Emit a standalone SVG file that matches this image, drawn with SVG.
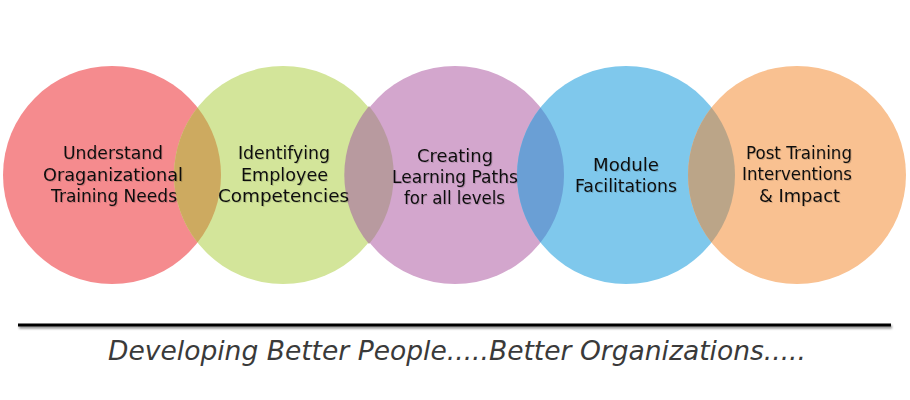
<svg xmlns="http://www.w3.org/2000/svg" width="910" height="400" viewBox="0 0 910 400">
<defs>
<filter id="ts" x="-10%" y="-30%" width="120%" height="160%">
<feDropShadow dx="1" dy="1" stdDeviation="0.4" flood-color="#000" flood-opacity="0.15"/>
</filter>
<filter id="ls" filterUnits="userSpaceOnUse" x="0" y="315" width="910" height="25">
<feDropShadow dx="1" dy="2" stdDeviation="1" flood-color="#000" flood-opacity="0.45"/>
</filter>
</defs>
<style>
.lbl{font-family:"DejaVu Sans","Liberation Sans",sans-serif;font-size:17px;fill:#111;text-anchor:middle;filter:url(#ts)}
.tag{font-family:"DejaVu Sans","Liberation Sans",sans-serif;font-size:27px;font-style:italic;fill:#3a3a3a}
</style>
<rect width="910" height="400" fill="#fff"/>
<g id="circle1"><circle cx="112" cy="175" r="109" fill="#F58B8E"/></g>
<g id="circle2"><circle cx="283" cy="175" r="109" fill="#D3E59A"/></g>
<g id="circle3"><circle cx="455" cy="175" r="109" fill="#D3A6CD"/></g>
<g id="circle4"><circle cx="626" cy="175" r="109" fill="#7FC8EC"/></g>
<g id="circle5"><circle cx="797" cy="175" r="109" fill="#F9C191"/></g>
<g id="overlaps">
<path d="M197.5 107.4 A109 109 0 0 1 197.5 242.6 A109 109 0 0 1 197.5 107.4Z" fill="#CDAA60"/>
<path d="M369 105.9 A109 109 0 0 1 369 244.1 A109 109 0 0 1 369 105.9Z" fill="#B89A9F"/>
<path d="M540.5 107.4 A109 109 0 0 1 540.5 242.6 A109 109 0 0 1 540.5 107.4Z" fill="#6A9FD5"/>
<path d="M711.5 107.4 A109 109 0 0 1 711.5 242.6 A109 109 0 0 1 711.5 107.4Z" fill="#BBA588"/>
</g>
<g id="labels">
<text class="lbl" x="113" y="159" textLength="100" lengthAdjust="spacingAndGlyphs">Understand</text>
<text class="lbl" x="113" y="181" textLength="140" lengthAdjust="spacingAndGlyphs">Oraganizational</text>
<text class="lbl" x="114" y="202" textLength="126" lengthAdjust="spacingAndGlyphs">Training Needs</text>
<text class="lbl" x="284" y="159" textLength="92" lengthAdjust="spacingAndGlyphs">Identifying</text>
<text class="lbl" x="284.5" y="181" textLength="87" lengthAdjust="spacingAndGlyphs">Employee</text>
<text class="lbl" x="283.5" y="202" textLength="131" lengthAdjust="spacingAndGlyphs">Competencies</text>
<text class="lbl" x="455" y="162" textLength="76" lengthAdjust="spacingAndGlyphs">Creating</text>
<text class="lbl" x="455" y="183" textLength="126" lengthAdjust="spacingAndGlyphs">Learning Paths</text>
<text class="lbl" x="454.5" y="204" textLength="101" lengthAdjust="spacingAndGlyphs">for all levels</text>
<text class="lbl" x="626" y="171" textLength="66" lengthAdjust="spacingAndGlyphs">Module</text>
<text class="lbl" x="626" y="192" textLength="102" lengthAdjust="spacingAndGlyphs">Facilitations</text>
<text class="lbl" x="799" y="159" textLength="106" lengthAdjust="spacingAndGlyphs">Post Training</text>
<text class="lbl" x="797" y="180" textLength="110" lengthAdjust="spacingAndGlyphs">Interventions</text>
<text class="lbl" x="799.5" y="202" textLength="81" lengthAdjust="spacingAndGlyphs">&amp; Impact</text>
</g>
<g id="connectors">
<rect x="18" y="323.5" width="873" height="3" fill="#000" filter="url(#ls)"/>
</g>
<text class="tag" x="108" y="360" textLength="698" lengthAdjust="spacingAndGlyphs">Developing Better People.....Better Organizations.....</text>
</svg>
